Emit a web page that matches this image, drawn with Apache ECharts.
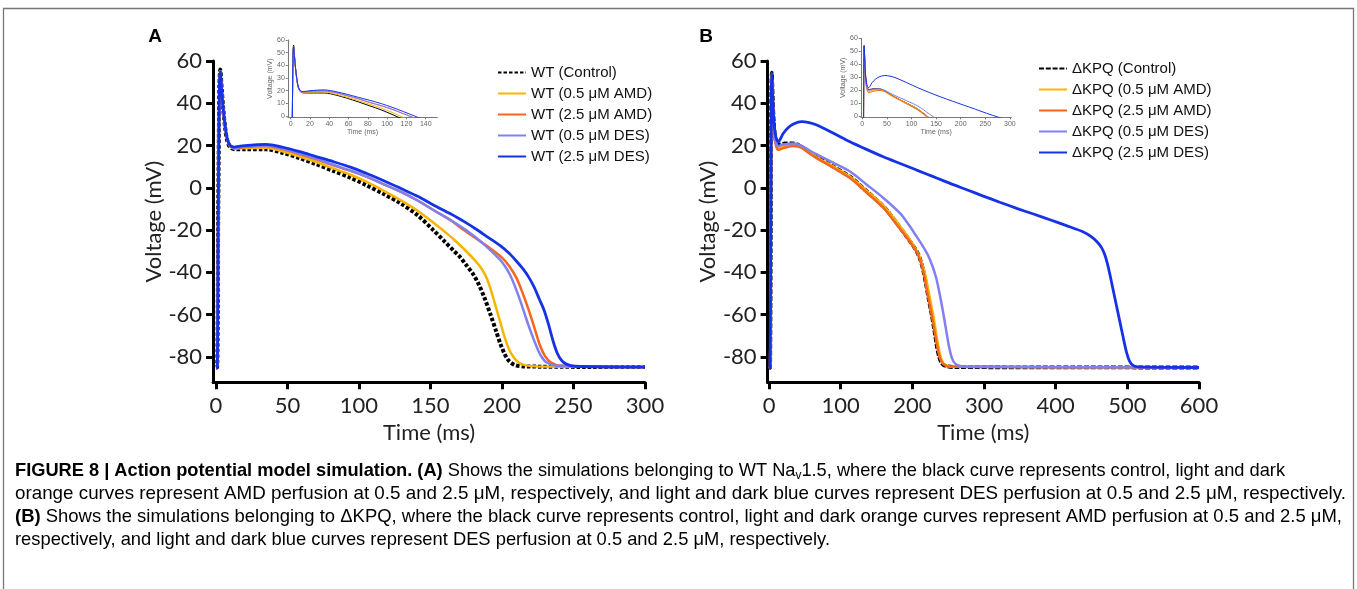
<!DOCTYPE html>
<html>
<head>
<meta charset="utf-8">
<script src="https://cdn.jsdelivr.net/npm/echarts@6/dist/echarts.min.js"></script>
<style>
html,body{margin:0;padding:0;background:#fff;}
#c{width:1357px;height:589px;}
</style>
</head>
<body>
<div id="c"></div>
<script>
// ---------- DATA ----------
const namesA = ['WT (Control)', 'WT (0.5 μM AMD)', 'WT (2.5 μM AMD)', 'WT (0.5 μM DES)', 'WT (2.5 μM DES)'];
const namesB = ['ΔKPQ (Control)', 'ΔKPQ (0.5 μM AMD)', 'ΔKPQ (2.5 μM AMD)', 'ΔKPQ (0.5 μM DES)', 'ΔKPQ (2.5 μM DES)'];

const mainXTicksA = [0, 50, 100, 150, 200, 250, 300];
const mainXTicksB = [0, 100, 200, 300, 400, 500, 600];
const mainYTicks = [-80, -60, -40, -20, 0, 20, 40, 60];
const insetXTicksA = [0, 20, 40, 60, 80, 100, 120, 140];
const insetXTicksB = [0, 50, 100, 150, 200, 250, 300];
const insetYTicks = [0, 10, 20, 30, 40, 50, 60];

// Panel A: [time ms, voltage mV]
const wtControl = [[0,-85],[0.8,-85],[1.6,-10],[2.4,48],[3,56],[4,47],[5,38],[6.5,28],[8,22],[10,19.2],[13,18.3],[20,18.2],[35,18.2],[47,16.5],[58.7,14],[70,11.2],[82,8],[94,4.8],[105,1.3],[117,-2.8],[129,-7.3],[141,-13],[152,-20],[160,-25.5],[166,-29.6],[171,-33],[175,-36.5],[180,-41],[184,-46],[188,-52.5],[192,-60],[196,-68],[199,-74],[202,-78.8],[205,-82],[209,-83.8],[215,-84.5],[300,-84.8]];
const wtAmd05 = [[0,-85],[0.8,-85],[1.6,-10],[2.4,48],[3,55],[4,46],[5,37.5],[6.5,28],[8,22.5],[10,19.5],[13,18.6],[20,18.8],[35,19],[47,17.2],[58.7,14.8],[70,12.2],[82,9.2],[94,6.2],[105,2.9],[117,-1.3],[129,-5.8],[141,-10.8],[153,-17],[160,-20.8],[166,-24.2],[175,-30],[182,-35],[186,-38.5],[189.5,-43],[193,-50],[196,-57],[199,-64],[202,-71],[205,-76.5],[208.5,-80.5],[212,-82.8],[217,-84],[225,-84.5],[300,-84.8]];
const wtAmd25 = [[0,-85],[0.8,-85],[1.6,-10],[2.4,48],[3,55],[4,46],[5,37.5],[6.5,28],[8,22.5],[10,19.6],[13,18.8],[20,19.3],[35,19.8],[47,18.2],[58.7,15.9],[70,13.5],[82,10.6],[94,8],[105,5.3],[117,1.8],[129,-1.8],[141,-6],[152,-10.5],[164,-15.3],[173,-19.8],[187,-26.3],[200,-33],[205,-37],[210,-42.5],[214,-49],[217.5,-55.5],[220.5,-61.5],[223.5,-68],[226.5,-74.5],[230,-79.5],[234,-82.5],[241,-84.2],[300,-84.8]];
const wtDes05 = [[0,-85],[0.8,-85],[1.6,-10],[2.4,48],[3,55],[4,46],[5,37.5],[6.5,28],[8,22.5],[10,19.7],[13,18.9],[20,19.5],[35,20],[47,18.5],[58.7,16.2],[70,13.8],[82,10.9],[94,8.2],[105,5.4],[117,1.8],[129,-1.8],[141,-6],[152,-10.5],[164,-15.2],[175.3,-20.2],[187,-26.5],[198.6,-34],[202,-37],[205.5,-41],[209,-46.5],[213,-53.8],[216.5,-61],[220,-67.8],[223.5,-74],[227,-79.2],[231,-82.5],[238,-84.2],[300,-84.8]];
const wtDes25 = [[0,-85],[0.8,-85],[1.6,-10],[2.4,48],[3,55],[4,46.5],[5,38],[6.5,29],[8,23],[10,20],[13,19.3],[20,20],[35,20.6],[47,19.2],[58.7,17.1],[70,14.8],[82,12.4],[94,9.8],[105,6.9],[117,3.5],[129,-0.2],[141,-4],[152,-8.1],[164,-12.3],[175,-16.6],[182,-19.6],[190,-23.3],[199,-27.5],[205,-31],[210,-34.6],[215,-38.6],[219,-42.6],[222.5,-47],[226,-52.5],[229.5,-58],[232.5,-64.5],[235.5,-72],[238.5,-78],[241.5,-81.5],[245,-83.4],[251,-84.4],[300,-84.8]];

// Panel B: [time ms, voltage mV]
const kpqControl = [[0,-85.5],[1.5,-85],[2.5,-10],[3.2,45],[3.8,54.5],[5,44],[6.5,32],[8.5,24],[11,20.8],[15,20.5],[22,21],[34,21],[45,19.5],[56,17],[66,14.7],[90,10],[113,5.3],[136,-1.5],[160,-8.9],[170,-13],[180,-17.5],[193,-23.5],[206,-30],[211,-34],[215.5,-39.5],[219,-45.5],[223,-53],[227,-60],[230.5,-67],[234,-74.5],[237,-79.5],[241,-83],[247,-84.3],[260,-84.8],[600,-85]];
const kpqAmd05 = [[0,-85.5],[1.5,-85],[2.5,-10],[3.2,45],[3.8,54],[5,43],[6.5,31],[8.5,23],[11,19.6],[13,19],[20,19.8],[34,20.3],[45,19.2],[56,16.8],[66,14.6],[90,10],[113,5.4],[136,-1.3],[160,-8.5],[180,-17],[195,-23.8],[208,-31],[213,-35.5],[218,-41],[221.5,-47],[225.5,-54],[229.5,-61],[233,-68.5],[236.5,-75.5],[240,-80.5],[244,-83.3],[252,-84.5],[600,-85]];
const kpqAmd25 = [[0,-85.5],[1.5,-85],[2.5,-10],[3.2,45],[3.8,54],[5,43],[6.5,30],[8.5,22],[11,18.6],[13,18],[20,18.8],[34,19.8],[45,19],[56,16.4],[66,14.2],[90,9.4],[113,4.6],[136,-2.2],[160,-9.6],[180,-18.2],[195,-24.8],[207,-31],[212,-35.5],[216.5,-41.5],[220,-48],[224,-55],[228,-62],[231.5,-69],[235,-75.5],[238.5,-80.5],[243,-83.3],[250,-84.5],[600,-85]];
const kpqDes05 = [[0,-85.5],[1.5,-85],[2.5,-10],[3.2,45],[3.8,54],[5,43.5],[6.5,31],[8.5,23],[11,20.3],[13,19.8],[20,20.5],[34,21],[45,20],[56,17.8],[66,15.9],[90,11.8],[113,7.7],[136,1.6],[160,-4.9],[183,-12.1],[195,-17.5],[206,-23.1],[215,-27.8],[222,-32],[228,-37],[233,-42.3],[237,-48.3],[241,-55.3],[244,-61],[247.5,-68],[251,-74.8],[255,-80.3],[260,-83.3],[268,-84.4],[280,-84.8],[600,-85]];
const kpqDes25 = [[0,-85.5],[1.5,-85],[2.5,-10],[3.2,45],[3.8,54],[5,44],[6.5,33],[8.5,26],[11,22.5],[13,21.8],[16,23.2],[20,25.8],[27,28.5],[34,30.2],[45.6,31.3],[56,30.8],[66.5,29.7],[90,25.8],[113,21.8],[136,18.2],[159.5,14.7],[183,11.5],[206,8.4],[230,5.2],[252.5,2.1],[276,-0.9],[299,-3.9],[322,-6.8],[345.6,-9.7],[369,-12.4],[392,-15.1],[415,-17.9],[438,-20.8],[450,-23.2],[458,-25.6],[464,-28.3],[468,-31.2],[472,-35.6],[476,-41.5],[480,-48],[485,-56],[490,-64],[494.5,-71.2],[499,-78],[503,-82],[508,-84],[515,-84.7],[600,-85]];

const seriesA = [wtControl, wtAmd05, wtAmd25, wtDes05, wtDes25];
const seriesB = [kpqControl, kpqAmd05, kpqAmd25, kpqDes05, kpqDes25];

// ---------- STYLE ----------
const colors = ['#000000', '#F7B500', '#F4661B', '#8080F2', '#1632E6'];
const AX_FONT = 'Lato';
const LEG_FONT = 'Liberation Sans';

function mainXAxis(grid, min, max, ticks) {
  return {
    gridIndex: grid, type: 'value', min: min, max: max,
    name: 'Time (ms)', nameLocation: 'middle', nameGap: 36,
    nameTextStyle: {fontFamily: AX_FONT, fontSize: 22, color: '#222'},
    axisLine: {onZero: false, lineStyle: {color: '#000', width: 3}},
    axisTick: {customValues: ticks, length: 7, lineStyle: {color: '#000', width: 3}},
    axisLabel: {customValues: ticks, margin: 13, fontFamily: AX_FONT, fontSize: 22, color: '#222'},
    splitLine: {show: false}
  };
}
function mainYAxis(grid) {
  return {
    gridIndex: grid, type: 'value', min: -92, max: 60,
    name: 'Voltage (mV)', nameLocation: 'middle', nameGap: 48,
    nameTextStyle: {fontFamily: AX_FONT, fontSize: 22, color: '#222'},
    axisLine: {onZero: false, lineStyle: {color: '#000', width: 3}},
    axisTick: {customValues: mainYTicks, length: 7, lineStyle: {color: '#000', width: 3}},
    axisLabel: {customValues: mainYTicks, margin: 11, fontFamily: AX_FONT, fontSize: 22, color: '#222'},
    splitLine: {show: false}
  };
}
function insetXAxis(grid, min, max, ticks) {
  return {
    gridIndex: grid, type: 'value', min: min, max: max,
    name: 'Time (ms)', nameLocation: 'middle', nameGap: 8,
    nameTextStyle: {fontFamily: LEG_FONT, fontSize: 7, color: '#666'},
    axisLine: {onZero: false, lineStyle: {color: '#777', width: 1}},
    axisTick: {customValues: ticks, length: 2, lineStyle: {color: '#777', width: 1}},
    axisLabel: {customValues: ticks, margin: 3, fontFamily: LEG_FONT, fontSize: 7, color: '#666'},
    splitLine: {show: false}
  };
}
function insetYAxis(grid) {
  return {
    gridIndex: grid, type: 'value', min: -1, max: 60,
    name: 'Voltage (mV)', nameLocation: 'middle', nameGap: 12,
    nameTextStyle: {fontFamily: LEG_FONT, fontSize: 7, color: '#666'},
    axisLine: {onZero: false, lineStyle: {color: '#777', width: 1}},
    axisTick: {customValues: insetYTicks, length: 2, lineStyle: {color: '#777', width: 1}},
    axisLabel: {customValues: insetYTicks, margin: 3, fontFamily: LEG_FONT, fontSize: 7, color: '#666'},
    splitLine: {show: false}
  };
}

function makeSeries(names, datas, xi, inset, panel) {
  return datas.map(function (d, i) {
    let ls;
    if (inset) {
      ls = {color: colors[i], width: 1};
    } else if (i === 0) {
      ls = panel === 'A' ? {color: '#000', width: 4, type: [3.5, 2]} : {color: '#000', width: 3.8, type: [5, 1.8]};
    } else {
      ls = {color: colors[i], width: i === 4 ? 2.8 : 2.5};
    }
    return {
      type: 'line', name: names[i], data: d,
      xAxisIndex: xi, yAxisIndex: xi,
      symbol: 'none', showSymbol: false, symbolSize: 0,
      smooth: 0.3,
      lineStyle: ls, itemStyle: {color: colors[i]},
      clip: true, z: 2 + i,
      emphasis: {disabled: true}, silent: true
    };
  });
}

// ---------- CAPTION ----------
const capFont = '"Liberation Sans"';
const capSize = 18.5;
const subSize = 12;
// each line: list of [style, text]
const capLines = [
  [['b', 'FIGURE 8 | Action potential model simulation. (A)'], ['n', ' Shows the simulations belonging to WT Na'], ['s', 'v'], ['n', '1.5, where the black curve represents control, light and dark']],
  [['n', 'orange curves represent AMD perfusion at 0.5 and 2.5 μM, respectively, and light and dark blue curves represent DES perfusion at 0.5 and 2.5 μM, respectively.']],
  [['b', '(B)'], ['n', ' Shows the simulations belonging to ΔKPQ, where the black curve represents control, light and dark orange curves represent AMD perfusion at 0.5 and 2.5 μM,']],
  [['n', 'respectively, and light and dark blue curves represent DES perfusion at 0.5 and 2.5 μM, respectively.']]
];
const capLineY = [471, 494, 517, 540];
const capLineWidth = [1270, 1331, 1327, 815];

const cv = document.createElement('canvas').getContext('2d');
function measureLine(parts) {
  let w = 0;
  parts.forEach(function (p) {
    if (p[0] === 'b') cv.font = 'bold ' + capSize + 'px ' + capFont;
    else if (p[0] === 's') cv.font = subSize + 'px ' + capFont;
    else cv.font = capSize + 'px ' + capFont;
    w += cv.measureText(p[1]).width;
  });
  return w;
}

const capRich = {
  b: {fontFamily: capFont, fontSize: capSize, fontWeight: 'bold', color: '#222', lineHeight: 22},
  n: {fontFamily: capFont, fontSize: capSize, color: '#333', lineHeight: 22},
  s: {fontFamily: capFont, fontSize: subSize, color: '#333', lineHeight: 14, verticalAlign: 'bottom'}
};

const graphics = [
  {type: 'rect', shape: {x: 3.5, y: 8.5, width: 1350, height: 640}, style: {fill: 'none', stroke: '#777', lineWidth: 1.3}, silent: true},
  {type: 'text', x: 155, y: 37, style: {text: 'A', fontFamily: 'Liberation Sans', fontWeight: 'bold', fontSize: 19, fill: '#000', align: 'center', verticalAlign: 'middle'}},
  {type: 'text', x: 706, y: 37, style: {text: 'B', fontFamily: 'Liberation Sans', fontWeight: 'bold', fontSize: 19, fill: '#000', align: 'center', verticalAlign: 'middle'}}
];
capLines.forEach(function (parts, i) {
  const txt = parts.map(function (p) { return '{' + p[0] + '|' + p[1] + '}'; }).join('');
  const sc = capLineWidth[i] / measureLine(parts);
  graphics.push({
    type: 'text', x: 15, y: capLineY[i], scaleX: sc, scaleY: 1, originX: 0, originY: 0,
    style: {text: txt, rich: capRich, align: 'left', verticalAlign: 'middle'}
  });
});

function legendCfg(names, left, top) {
  return {
    data: names, orient: 'vertical', left: left, top: top,
    itemWidth: 28, itemHeight: 14, itemGap: 6, padding: 0,
    selectedMode: false,
    itemStyle: {opacity: 0},
    textStyle: {fontFamily: LEG_FONT, fontSize: 15, color: '#111'}
  };
}

const chart = echarts.init(document.getElementById('c'), null, {renderer: 'canvas'});
chart.setOption({
  animation: false,
  backgroundColor: '#fff',
  grid: [
    {left: 213.1, top: 61, width: 431.9, height: 321.3, outerBoundsMode: 'none'},
    {left: 767.6, top: 61, width: 431.4, height: 321.3, outerBoundsMode: 'none'},
    {left: 287.8, top: 40, width: 149.5, height: 77.3, outerBoundsMode: 'none'},
    {left: 860.8, top: 38.3, width: 150.6, height: 79, outerBoundsMode: 'none'}
  ],
  xAxis: [
    mainXAxis(0, -2, 300, mainXTicksA),
    mainXAxis(1, -2, 600, mainXTicksB),
    insetXAxis(2, -3, 152, insetXTicksA),
    insetXAxis(3, -3, 303, insetXTicksB)
  ],
  yAxis: [mainYAxis(0), mainYAxis(1), insetYAxis(2), insetYAxis(3)],
  legend: [legendCfg(namesA, 497, 65), legendCfg(namesB, 1038, 61)],
  series: [].concat(
    makeSeries(namesA, seriesA, 0, false, 'A'),
    makeSeries(namesB, seriesB, 1, false, 'B'),
    makeSeries(namesA, seriesA, 2, true, 'A'),
    makeSeries(namesB, seriesB, 3, true, 'B')
  ),
  graphic: graphics
});
</script>
</body>
</html>
